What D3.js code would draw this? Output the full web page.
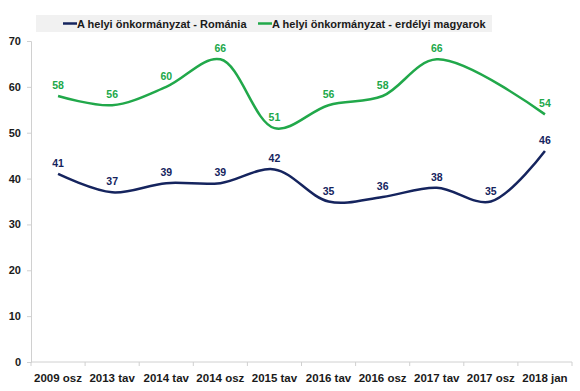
<!DOCTYPE html>
<html>
<head>
<meta charset="utf-8">
<script src="https://cdn.jsdelivr.net/npm/d3@7"></script>
<style>
  body { margin: 0; background: #fff; }
  svg { display: block; font-family: Arial, "Liberation Sans", sans-serif; }
</style>
</head>
<body>
<div id="chart"></div>
<script>
const categories = ['2009 osz', '2013 tav', '2014 tav', '2014 osz', '2015 tav', '2016 tav', '2016 osz', '2017 tav', '2017 osz', '2018 jan'];
const romania = [41, 37, 39, 39, 42, 35, 36, 38, 35, 46];
const magyarok = [58, 56, 60, 66, 51, 56, 58, 66, null, 54];
const yTicks = [0, 10, 20, 30, 40, 50, 60, 70];

const seriesNames = ['A helyi önkormányzat - Románia', 'A helyi önkormányzat - erdélyi magyarok'];
const seriesColors = ['#15245e', '#21a84a'];

const width = 580, height = 391;
const margin = { top: 41, right: 8, bottom: 29, left: 31 };

const svg = d3.select('#chart').append('svg').attr('width', width).attr('height', height);

const x = d3.scaleBand().domain(categories).range([margin.left, width - margin.right]).padding(0);
const y = d3.scaleLinear().domain([0, 70]).range([height - margin.bottom, margin.top]);

// y axis
const yAxis = svg.append('g')
	.attr('transform', `translate(${margin.left},0)`)
	.call(d3.axisLeft(y).tickValues(yTicks).tickSize(4).tickPadding(6));
yAxis.selectAll('path, line').attr('stroke', '#d0d0d0');
yAxis.selectAll('text').attr('font-size', 11).attr('font-weight', 'bold').attr('fill', '#1a1a1a')
	.attr('font-family', 'Arial, "Liberation Sans", sans-serif');

// x axis: ticks between categories
const xAxisG = svg.append('g').attr('transform', `translate(0,${y(0)})`);
xAxisG.append('line')
	.attr('x1', margin.left).attr('x2', width - margin.right)
	.attr('stroke', '#d0d0d0');
const bounds = categories.map((c) => x(c)).concat([x(categories[categories.length - 1]) + x.bandwidth()]);
xAxisG.selectAll('line.tick')
	.data(bounds)
	.enter()
	.append('line')
	.attr('class', 'tick')
	.attr('x1', (d) => d).attr('x2', (d) => d)
	.attr('y1', 0).attr('y2', 4)
	.attr('stroke', '#d0d0d0');
xAxisG.selectAll('text')
	.data(categories)
	.enter()
	.append('text')
	.attr('x', (d) => x(d) + x.bandwidth() / 2)
	.attr('y', 20)
	.attr('text-anchor', 'middle')
	.attr('font-size', 11.5)
	.attr('font-weight', 'bold')
	.attr('fill', '#1a1a1a')
	.text((d) => d);

// lines
const line = d3.line()
	.x((d) => x(d.cat) + x.bandwidth() / 2)
	.y((d) => y(d.v))
	.curve(d3.curveCatmullRom.alpha(0.5));

[romania, magyarok].forEach((vals, si) => {
	const pts = vals.map((v, i) => ({ cat: categories[i], v: v })).filter((d) => d.v != null);
	svg.append('path')
		.datum(pts)
		.attr('fill', 'none')
		.attr('stroke', seriesColors[si])
		.attr('stroke-width', 2.5)
		.attr('d', line);
	svg.append('g')
		.selectAll('text')
		.data(pts)
		.enter()
		.append('text')
		.attr('x', (d) => x(d.cat) + x.bandwidth() / 2)
		.attr('y', (d) => y(d.v) - 7)
		.attr('text-anchor', 'middle')
		.attr('font-size', 10.5)
		.attr('font-weight', 'bold')
		.attr('fill', seriesColors[si])
		.text((d) => d.v);
});

// legend
const legend = svg.append('g');
legend.append('rect')
	.attr('x', 36).attr('y', 15).attr('width', 456).attr('height', 17)
	.attr('fill', '#f1f1f1');
const legendX = [63, 258];
seriesNames.forEach((name, i) => {
	legend.append('line')
		.attr('x1', legendX[i]).attr('x2', legendX[i] + 14)
		.attr('y1', 23.5).attr('y2', 23.5)
		.attr('stroke', seriesColors[i]).attr('stroke-width', 2.5);
	legend.append('text')
		.attr('x', legendX[i] + 14).attr('y', 27.5)
		.attr('font-size', 11)
		.attr('font-weight', 'bold')
		.attr('fill', '#1a1a1a')
		.text(name);
});
</script>
</body>
</html>
